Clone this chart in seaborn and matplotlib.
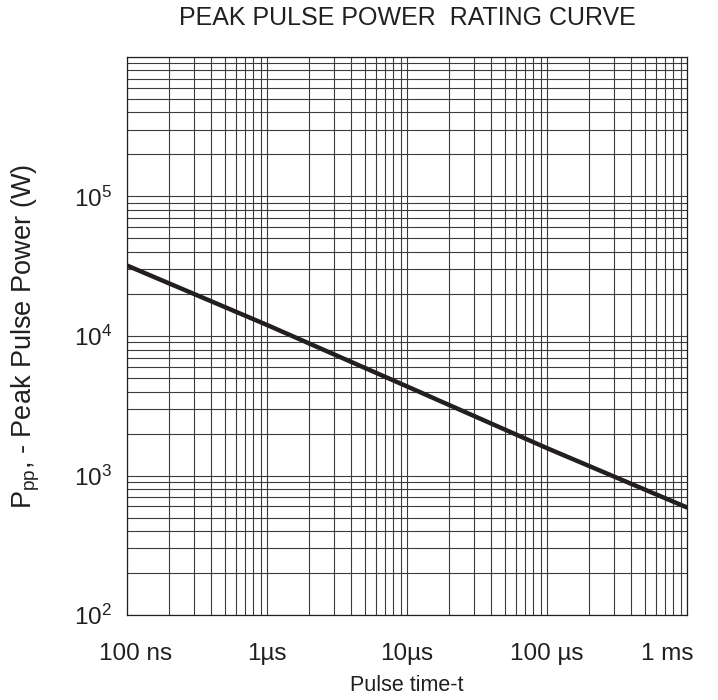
import numpy as np
import pandas as pd
import matplotlib
matplotlib.use('Agg')
import matplotlib.pyplot as plt
import matplotlib.transforms as mtransforms
from matplotlib.ticker import LogLocator, NullFormatter, FixedLocator
import seaborn as sns

# valeurs (log-log, droite)
pulse_time = [1e-7, 1e-6, 1e-5, 1e-4, 1e-3]
peak_power = [32000, 12000, 4350, 1570, 590]

x_ticks = [1e-7, 1e-6, 1e-5, 1e-4, 1e-3]
x_labels = ["100 ns", "1µs", "10µs", "100 µs", "1 ms"]
y_ticks = [1e2, 1e3, 1e4, 1e5]
y_labels = ["$10^{2}$", "$10^{3}$", "$10^{4}$", "$10^{5}$"]

sns.set_style("white")
plt.rcParams['font.family'] = ['Liberation Sans', 'DejaVu Sans']
plt.rcParams['mathtext.fontset'] = 'custom'
plt.rcParams['mathtext.rm'] = 'Liberation Sans'
plt.rcParams['mathtext.it'] = 'Liberation Sans:italic'
plt.rcParams['mathtext.bf'] = 'Liberation Sans:bold'

df = pd.DataFrame({"t": pulse_time, "P": peak_power})

fig = plt.figure(figsize=(7.18, 7.0), dpi=100)
ax = fig.add_axes([0.1769, 0.1214, 0.78, 0.7972])

sns.lineplot(data=df, x="t", y="P", ax=ax, color="#231f20", linewidth=3.2, zorder=3)

ax.set_xscale("log")
ax.set_yscale("log")
ax.set_xlim(1e-7, 1e-3)
ax.set_ylim(1e2, 1e6)

# grille log complete
ax.xaxis.set_minor_locator(LogLocator(base=10, subs=np.arange(2, 10)))
ax.yaxis.set_minor_locator(LogLocator(base=10, subs=np.arange(2, 10)))
ax.xaxis.set_minor_formatter(NullFormatter())
ax.yaxis.set_minor_formatter(NullFormatter())
ax.xaxis.set_major_locator(FixedLocator(x_ticks))
ax.yaxis.set_major_locator(FixedLocator(y_ticks + [1e6]))
ax.set_xticklabels(x_labels)
ax.set_yticklabels(y_labels + [""])
ax.grid(True, which="both", color="#3c3c3c", linewidth=0.8)
ax.set_axisbelow(True)

ax.tick_params(which="both", length=0, labelsize=17.5, colors="#231f20")
ax.tick_params(axis="x", pad=20)
ax.tick_params(axis="y", pad=11)

# le premier et le dernier label sont decales vers l'interieur
labs = ax.get_xticklabels()
labs[0].set_transform(labs[0].get_transform() + mtransforms.ScaledTranslation(0.09, 0, fig.dpi_scale_trans))
labs[-1].set_transform(labs[-1].get_transform() + mtransforms.ScaledTranslation(-0.20, 0, fig.dpi_scale_trans))

for sp in ax.spines.values():
    sp.set_color("#231f20")
    sp.set_linewidth(0.9)

ax.set_title("PEAK PULSE POWER  RATING CURVE", fontsize=18, color="#231f20", pad=23)
ax.set_xlabel("Pulse time-t", fontsize=15.5, color="#231f20", labelpad=7)
ax.set_ylabel("P$\\mathregular{_{pp}}$, - Peak Pulse Power (W)", fontsize=19.5, color="#231f20")
ax.yaxis.set_label_coords(-0.152, 0.5)

fig.savefig("out.png", dpi=100)
plt.close(fig)
